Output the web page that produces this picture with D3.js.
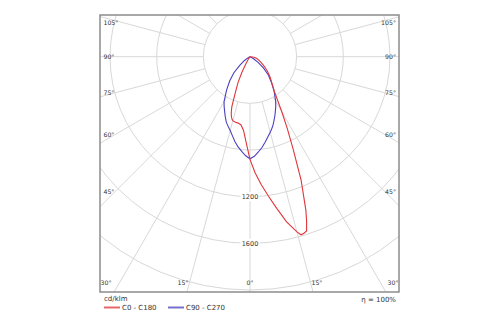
<!DOCTYPE html>
<html><head><meta charset="utf-8">
<script src="https://cdn.jsdelivr.net/npm/d3@7/dist/d3.min.js"></script>
<style>body{margin:0;background:#fff}svg{display:block}</style>
</head><body>
<script>
// ---- data ----
const gammaAngles = [0,2.5,5,7.5,10,12.5,15,16,17,18,19,20,22.5,25,27.5,30,35,40,45,50,55,60,65,70,75,80,85,90];
const c0Values   = [880,995,1100,1205,1320,1450,1555,1588,1582,1570,1490,1400,1145,875,690,545,365,290,242,195,155,120,95,75,60,42,22,0];
const c180Values = [880,740,635,590,578,576,568,558,542,520,490,455,320,240,150,70,20,5,0,0,0,0,0,0,0,0,0,0];
const c90Values  = [875,855,820,785,745,705,670,656,642,628,612,595,555,515,478,440,360,285,222,150,85,35,10,0,0,0,0,0];
const c270Values = [875,850,815,780,740,695,655,643,631,619,607,595,555,515,480,445,350,270,195,115,60,25,5,0,0,0,0,0];
const ringValues = [400,800,1200,1600,2000];
const ringLabelValues = [1200,1600];
const spokeAngles = d3.range(0,360,15);
const angleLabels = [0,15,30,45,60,75,90,105];
const seriesNames = ["C0 - C180","C90 - C270"];
const seriesColors = ["#e0363a","#4a3fc0"];
const unitLabel = "cd/klm";
const efficiencyLabel = "\u03b7 = 100%";

// ---- layout ----
const W=500,H=325;
const frame={x:100,y:15,w:299,h:277};
const cx=250, cy=56.7;
const r = d3.scaleLinear().domain([0,2000]).range([0,233.3]);
const rad = d => d*Math.PI/180;

const svg = d3.select("body").append("svg").attr("width",W).attr("height",H);
svg.append("rect").attr("width",W).attr("height",H).attr("fill","#fff");
svg.append("clipPath").attr("id","fc").append("rect")
  .attr("x",frame.x).attr("y",frame.y).attr("width",frame.w).attr("height",frame.h);

const plot = svg.append("g").attr("clip-path","url(#fc)");
const g = plot.append("g").attr("transform",`translate(${cx},${cy})`);
const gridColor="#d8d8d8";

// rings
g.selectAll("circle.ring").data(ringValues).join("circle")
  .attr("r",d=>r(d)).attr("fill","none").attr("stroke",gridColor).attr("stroke-width",1);
// spokes (gamma measured from downward vertical)
g.selectAll("line.spoke").data(spokeAngles).join("line")
  .attr("x1",d=>r(400)*Math.sin(rad(d))).attr("y1",d=>r(400)*Math.cos(rad(d)))
  .attr("x2",d=>600*Math.sin(rad(d))).attr("y2",d=>600*Math.cos(rad(d)))
  .attr("stroke",gridColor).attr("stroke-width",1);

// ring labels
const rl = g.selectAll("g.rl").data(ringLabelValues).join("g")
  .attr("transform",d=>`translate(0,${r(d)})`);
rl.append("rect").attr("x",-9.5).attr("y",-4.5).attr("width",19).attr("height",9).attr("fill","#fff");
rl.append("text").attr("text-anchor","middle").attr("dy","0.35em")
  .attr("font-family","DejaVu Sans, sans-serif").attr("font-size",6.5).attr("fill","#333")
  .text(d=>d);

// curves
const line = d3.lineRadial().curve(d3.curveLinear).angle(d=>d.a).radius(d=>r(d.v));
function closed(right,left){
  const pts=[];
  for(let i=gammaAngles.length-1;i>=0;i--) pts.push({a:Math.PI+rad(gammaAngles[i]),v:left[i]});
  for(let i=0;i<gammaAngles.length;i++) pts.push({a:Math.PI-rad(gammaAngles[i]),v:right[i]});
  return pts;
}
g.append("path").attr("d",line(closed(c90Values,c270Values)))
  .attr("fill","none").attr("stroke",seriesColors[1]).attr("stroke-width",1.1);
g.append("path").attr("d",line(closed(c0Values,c180Values)))
  .attr("fill","none").attr("stroke",seriesColors[0]).attr("stroke-width",1.1);

// angle labels
const lab = svg.append("g").attr("font-family","DejaVu Sans, sans-serif").attr("font-size",6.2).attr("fill","#333");
angleLabels.forEach(a=>{
  [-1,1].forEach(side=>{
    if(a===0 && side===1) return;
    let x,y,anchor;
    if(a<=30){
      y=283; x=cx+side*250*Math.tan(rad(a));
      x=Math.max(106,Math.min(393,x)); anchor="middle";
    } else {
      y=cy+135/Math.tan(rad(a)); y=Math.max(23,y);
      x= side<0 ? 103.5 : 396; anchor = side<0 ? "start":"end";
    }
    lab.append("text").attr("x",x).attr("y",y).attr("dy","0.35em").attr("text-anchor",anchor).text(a+"\u00b0");
  });
});

// frame
svg.append("rect").attr("x",frame.x).attr("y",frame.y).attr("width",frame.w).attr("height",frame.h)
  .attr("fill","none").attr("stroke","#8c8c8c").attr("stroke-width",1.5);

// footer
const ft = svg.append("g").attr("font-family","DejaVu Sans, sans-serif").attr("font-size",7).attr("fill","#333");
ft.append("text").attr("x",104).attr("y",301).text(unitLabel);
ft.append("text").attr("x",396).attr("y",302).attr("text-anchor","end").text(efficiencyLabel);
const leg = ft.selectAll("g.leg").data(seriesNames).join("g")
  .attr("transform",(d,i)=>`translate(${104+i*64},307.5)`);
leg.append("line").attr("x1",0).attr("x2",16).attr("stroke",(d,i)=>seriesColors[i]).attr("stroke-width",2).attr("opacity",0.75);
leg.append("text").attr("x",18).attr("dy","0.35em").text(d=>d);
</script>
</body></html>
